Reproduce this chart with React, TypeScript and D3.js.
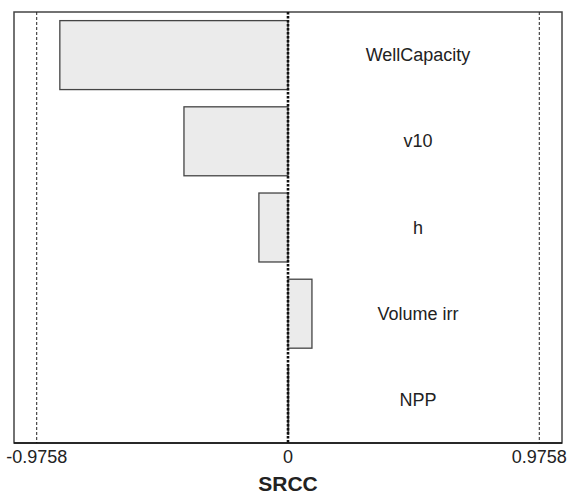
import React, { useEffect, useRef } from 'react';
import * as d3 from 'd3';

const params = ['WellCapacity', 'v10', 'h', 'Volume irr', 'NPP'];
const srcc = [-0.886, -0.404, -0.113, 0.093, 0.002];
const tickValues = [-0.9758, 0, 0.9758];
const tickLabels = ['-0.9758', '0', '0.9758'];

const App: React.FC = () => {
  const svgRef = useRef<SVGSVGElement>(null);

  useEffect(() => {
    const width = 568;
    const height = 494;
    const left = 14, right = 562, top = 12, bottom = 443;

    d3.select(svgRef.current).selectAll('*').remove();
    const svg = d3.select(svgRef.current)
      .attr('width', width)
      .attr('height', height)
      .style('font-family', '"Liberation Sans", Arial, sans-serif');

    const x = d3.scaleLinear().domain([-1.064, 1.064]).range([left, right]);
    const y = d3.scaleBand<string>()
      .domain(params)
      .range([top, bottom])
      .paddingInner(0.2)
      .paddingOuter(0.1);

    // 边框
    svg.append('rect')
      .attr('x', left)
      .attr('y', top)
      .attr('width', right - left)
      .attr('height', bottom - top)
      .attr('fill', 'none')
      .attr('stroke', '#444')
      .attr('stroke-width', 1.5);

    // 临界值虚线
    svg.selectAll('.crit')
      .data([tickValues[0], tickValues[2]])
      .enter()
      .append('line')
      .attr('x1', d => x(d))
      .attr('x2', d => x(d))
      .attr('y1', top)
      .attr('y2', bottom)
      .attr('stroke', '#222')
      .attr('stroke-width', 1)
      .attr('stroke-dasharray', '3,2');

    // 条形
    svg.selectAll('.bar')
      .data(params)
      .enter()
      .append('rect')
      .attr('x', (d, i) => Math.min(x(0), x(srcc[i])))
      .attr('y', d => y(d) || 0)
      .attr('width', (d, i) => Math.abs(x(srcc[i]) - x(0)))
      .attr('height', y.bandwidth())
      .attr('fill', '#ebebeb')
      .attr('stroke', '#444')
      .attr('stroke-width', 1.3);

    // 零线
    svg.append('line')
      .attr('x1', x(0))
      .attr('x2', x(0))
      .attr('y1', top)
      .attr('y2', bottom)
      .attr('stroke', '#111')
      .attr('stroke-width', 2.6)
      .attr('stroke-dasharray', '2.5,1.5');

    // 底部坐标轴
    svg.append('line')
      .attr('x1', left)
      .attr('x2', right)
      .attr('y1', bottom)
      .attr('y2', bottom)
      .attr('stroke', '#111')
      .attr('stroke-width', 1.5);

    // 参数标签
    svg.selectAll('.label')
      .data(params)
      .enter()
      .append('text')
      .attr('x', 418)
      .attr('y', d => (y(d) || 0) + y.bandwidth() / 2 + 6)
      .attr('text-anchor', 'middle')
      .attr('font-size', 18)
      .attr('fill', '#222')
      .text(d => d);

    // 刻度标签
    svg.selectAll('.tick')
      .data(tickValues)
      .enter()
      .append('text')
      .attr('x', d => x(d))
      .attr('y', 463)
      .attr('text-anchor', 'middle')
      .attr('font-size', 18)
      .attr('fill', '#222')
      .text((d, i) => tickLabels[i]);

    svg.append('text')
      .attr('x', x(0))
      .attr('y', 491)
      .attr('text-anchor', 'middle')
      .attr('font-size', 21)
      .attr('font-weight', 'bold')
      .attr('fill', '#222')
      .text('SRCC');
  }, []);

  return (
    <div style={{ position: 'absolute', left: 0, top: 0 }}>
      <svg ref={svgRef} style={{ display: 'block' }} />
    </div>
  );
};

export default App;
